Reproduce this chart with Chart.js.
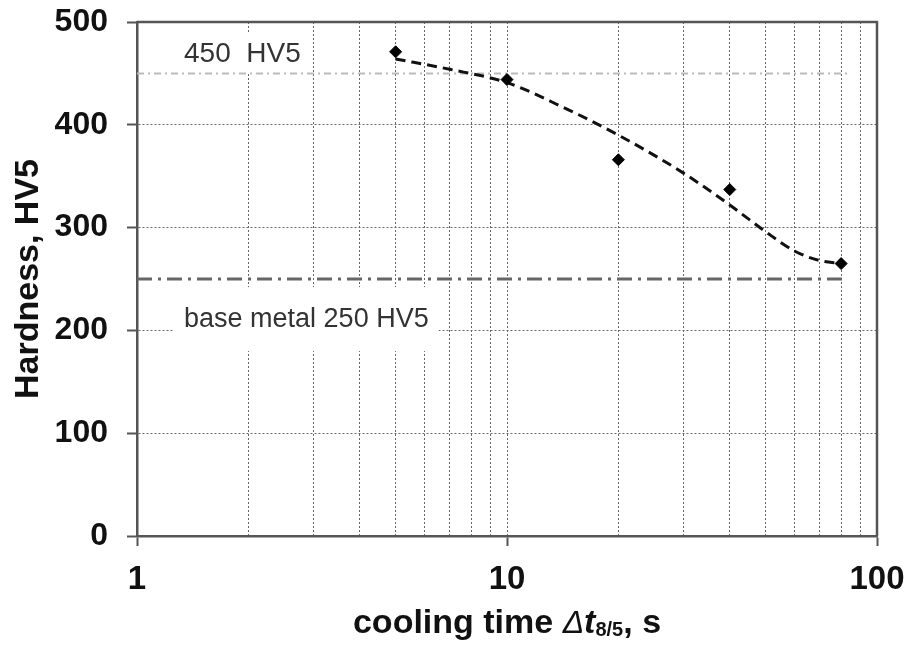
<!DOCTYPE html>
<html>
<head>
<meta charset="utf-8">
<script src="https://cdn.jsdelivr.net/npm/chart.js@4.4.1/dist/chart.umd.min.js"></script>
<style>
    html, body { margin: 0; padding: 0; background: #fff; }
    #obal { width: 909px; height: 646px; }
</style>
</head>
<body>
<div id="obal"><canvas id="grafTvrdost"></canvas></div>
<script>
// namerene body: doba chladnuti t8/5 [s] a tvrdost HV5
const dobaChladnuti = [5, 10, 20, 40, 80];
const tvrdost = [471, 444, 366, 337, 265];

// prolozena carkovana krivka
const krivkaX = [5, 7, 10, 14, 20, 30, 40, 50, 60, 70, 80];
const krivkaY = [464, 454, 441, 418, 390, 353, 322, 296, 277, 268, 265];

// vodorovne meze
const mezX = [1, 83];
const limitTvrdosti = 450;
const zakladniMaterial = 250;

// osy
const xTicks = [1, 2, 3, 4, 5, 6, 7, 8, 9, 10, 20, 30, 40, 50, 60, 70, 80, 90, 100];
const xPopisky = [1, 10, 100];
const yTicks = [0, 100, 200, 300, 400, 500];

const pismo = "'Liberation Sans', Arial, sans-serif";

// texty v grafu (poloha v hodnotach os)
const popisky = [
    { text: '450  HV5', x: 1.34, y: 469, velikost: 28, vyskaBoxu: 40 },
    { text: 'base metal 250 HV5', x: 1.34, y: 211, velikost: 27, vyskaBoxu: 64 }
];

const popiskyPlugin = {
    id: 'popisky',
    beforeDatasetsDraw(chart) {
        const { ctx, scales: { x, y } } = chart;
        ctx.save();
        popisky.forEach(p => {
            ctx.font = `${p.velikost}px ${pismo}`;
            const sirka = ctx.measureText(p.text).width;
            const px = x.getPixelForValue(p.x);
            const py = y.getPixelForValue(p.y);
            ctx.fillStyle = '#fff';
            ctx.fillRect(px - 10, py - p.vyskaBoxu / 2, sirka + 20, p.vyskaBoxu);
            ctx.fillStyle = '#333';
            ctx.textBaseline = 'middle';
            ctx.fillText(p.text, px, py);
        });
        ctx.restore();
    }
};

const ramecekPlugin = {
    id: 'ramecek',
    afterDraw(chart) {
        const { ctx, chartArea: a } = chart;
        ctx.save();
        ctx.strokeStyle = '#555';
        ctx.lineWidth = 2.5;
        ctx.beginPath();
        ctx.moveTo(a.left, a.top);
        ctx.lineTo(a.right, a.top);
        ctx.lineTo(a.right, a.bottom);
        ctx.stroke();

        // popis osy x s dolnim indexem
        const casti = [
            { t: 'cooling time ', f: `bold 34px ${pismo}`, dy: 0 },
            { t: '\u0394', f: `italic 32px ${pismo}`, dy: 0 },
            { t: 't', f: `italic bold 34px ${pismo}`, dy: 0 },
            { t: '8/5', f: `bold 20px ${pismo}`, dy: 3 },
            { t: ', s', f: `bold 34px ${pismo}`, dy: 0 }
        ];
        let celkem = 0;
        casti.forEach(c => { ctx.font = c.f; c.w = ctx.measureText(c.t).width; celkem += c.w; });
        let px = (a.left + a.right) / 2 - celkem / 2;
        ctx.fillStyle = '#111';
        ctx.textBaseline = 'alphabetic';
        casti.forEach(c => {
            ctx.font = c.f;
            ctx.fillText(c.t, px, 633 + c.dy);
            px += c.w;
        });
        ctx.restore();
    }
};

const ctx = document.getElementById('grafTvrdost').getContext('2d');
new Chart(ctx, {
    type: 'scatter',
    data: {
        datasets: [
            {
                label: 'measured',
                data: dobaChladnuti.map((v, i) => ({ x: v, y: tvrdost[i] })),
                showLine: false,
                pointStyle: 'rectRot',
                pointRadius: 6,
                backgroundColor: '#000',
                borderColor: '#000',
                borderWidth: 1
            },
            {
                label: 'fit',
                data: krivkaX.map((v, i) => ({ x: v, y: krivkaY[i] })),
                showLine: true,
                pointRadius: 0,
                borderColor: '#111',
                borderWidth: 3,
                borderDash: [10, 6],
                cubicInterpolationMode: 'monotone'
            },
            {
                label: '450 HV5',
                data: mezX.map(v => ({ x: v, y: limitTvrdosti })),
                showLine: true,
                pointRadius: 0,
                borderColor: '#bbb',
                borderWidth: 2,
                borderDash: [7, 4, 2, 4]
            },
            {
                label: 'base metal',
                data: mezX.map(v => ({ x: v, y: zakladniMaterial })),
                showLine: true,
                pointRadius: 0,
                borderColor: '#666',
                borderWidth: 3,
                borderDash: [15, 6, 3, 6]
            }
        ]
    },
    options: {
        responsive: true,
        maintainAspectRatio: false,
        animation: false,
        layout: { padding: { top: 22, right: 32, left: 0, bottom: 0 } },
        plugins: {
            legend: { display: false },
            tooltip: { enabled: false }
        },
        scales: {
            x: {
                type: 'logarithmic',
                min: 1,
                max: 100,
                afterBuildTicks: scale => {
                    scale.ticks = xTicks.map(v => ({ value: v }));
                },
                afterFit: scale => {
                    scale.height = 110;
                    scale.paddingLeft = 0;
                    scale.paddingRight = 0;
                },
                ticks: {
                    autoSkip: false,
                    maxRotation: 0,
                    padding: 14,
                    color: '#111',
                    font: { family: pismo, size: 33, weight: 'bold' },
                    callback: v => xPopisky.includes(v) ? String(v) : ''
                },
                grid: {
                    color: '#666',
                    lineWidth: 1,
                    tickLength: 10,
                    tickWidth: 2,
                    tickColor: c => (c.tick && xPopisky.includes(c.tick.value)) ? '#555' : 'rgba(0,0,0,0)'
                },
                border: { display: true, color: '#555', width: 2.5, dash: [2, 2] }
            },
            y: {
                min: 0,
                max: 500,
                afterBuildTicks: scale => {
                    scale.ticks = yTicks.map(v => ({ value: v }));
                },
                afterFit: scale => {
                    scale.width = 137;
                    scale.paddingTop = 0;
                    scale.paddingBottom = 0;
                },
                ticks: {
                    padding: 19,
                    color: '#111',
                    font: { family: pismo, size: 32, weight: 'bold' }
                },
                grid: {
                    color: '#666',
                    lineWidth: 1,
                    tickLength: 10,
                    tickWidth: 2,
                    tickColor: '#555'
                },
                border: { display: true, color: '#555', width: 2.5, dash: [2, 2] },
                title: {
                    display: true,
                    text: 'Hardness, HV5',
                    color: '#111',
                    padding: { top: 8, bottom: 0 },
                    font: { family: pismo, size: 34, weight: 'bold' }
                }
            }
        }
    },
    plugins: [popiskyPlugin, ramecekPlugin]
});
</script>
</body>
</html>
